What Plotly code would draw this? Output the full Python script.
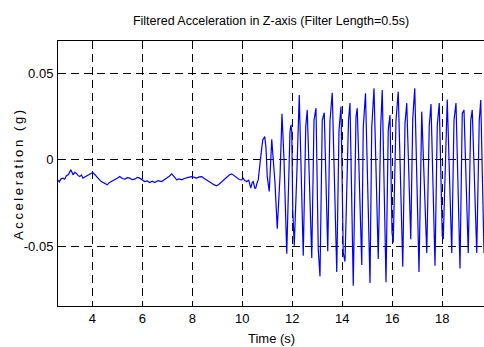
import plotly.graph_objects as go

# Time (s)
t = [2.63, 2.68, 2.75, 2.83, 2.9, 2.96, 3.05, 3.14, 3.2, 3.23, 3.3, 3.36, 3.43, 3.5, 3.57, 3.63,
     3.72, 3.83, 3.92, 4.02, 4.1, 4.16, 4.26, 4.36, 4.48, 4.6, 4.68, 4.76, 4.86, 4.96, 5.03, 5.1,
     5.2, 5.3, 5.4, 5.5, 5.6, 5.7, 5.8, 5.9, 6.0, 6.1, 6.2, 6.3, 6.4, 6.5, 6.63, 6.78, 6.88, 6.98,
     7.08, 7.18, 7.28, 7.38, 7.48, 7.58, 7.68, 7.78, 7.88, 7.98, 8.08, 8.18, 8.28, 8.38, 8.48, 8.58,
     8.68, 8.78, 8.88, 8.98, 9.08, 9.18, 9.28, 9.38, 9.48, 9.58, 9.68, 9.78, 9.88, 9.98, 10.04, 10.1,
     10.18, 10.26, 10.34, 10.4, 10.44, 10.5, 10.54, 10.6, 10.64, 10.74, 10.82, 10.9, 10.95, 11.0,
     11.08, 11.18, 11.24, 11.31, 11.4, 11.51, 11.59, 11.67, 11.78, 11.86, 11.91, 11.95, 11.98, 12.02,
     12.08, 12.18, 12.28, 12.44, 12.54, 12.6, 12.78, 12.87, 12.95, 13.04, 13.11, 13.2, 13.28, 13.42,
     13.51, 13.6, 13.78, 13.87, 13.95, 14.04, 14.11, 14.25, 14.31, 14.44, 14.55, 14.6, 14.78, 14.84,
     14.93, 15.11, 15.18, 15.27, 15.44, 15.54, 15.6, 15.75, 15.84, 15.91, 15.99, 16.04, 16.15, 16.24,
     16.42, 16.51, 16.58, 16.74, 16.82, 16.9, 17.07, 17.18, 17.38, 17.48, 17.55, 17.71, 17.8, 17.88,
     18.0, 18.04, 18.2, 18.38, 18.47, 18.55, 18.71, 18.8, 18.87, 19.04, 19.14, 19.2, 19.38, 19.48,
     19.54, 19.67]

# Filtered acceleration (g)
accel = [-0.0116, -0.0128, -0.011, -0.0106, -0.0112, -0.0093, -0.0085, -0.0058, -0.0075, -0.0087,
         -0.0072, -0.0077, -0.009, -0.0097, -0.0088, -0.0106, -0.0098, -0.0087, -0.0082, -0.0073,
         -0.0085, -0.0097, -0.011, -0.0126, -0.0135, -0.0145, -0.0132, -0.0126, -0.012, -0.0112,
         -0.0104, -0.0097, -0.0108, -0.0112, -0.0103, -0.0106, -0.0115, -0.0112, -0.0102, -0.0106,
         -0.0118, -0.0126, -0.0122, -0.0131, -0.0124, -0.0131, -0.012, -0.0126, -0.0115, -0.0106,
         -0.0095, -0.0081, -0.0098, -0.0116, -0.011, -0.0116, -0.0108, -0.0106, -0.01, -0.0097,
         -0.0103, -0.0106, -0.0099, -0.0097, -0.0108, -0.0116, -0.0124, -0.0135, -0.0145, -0.0151,
         -0.014, -0.0126, -0.011, -0.0097, -0.0088, -0.0081, -0.0092, -0.0106, -0.0114, -0.0116,
         -0.0106, -0.012, -0.0126, -0.0118, -0.0164, -0.013, -0.0126, -0.0164, -0.0164, -0.013,
         -0.0116, 0.0019, 0.0116, 0.0135, 0.0068, -0.0097, -0.0183, 0.012, 0.0019, -0.0135, -0.040,
         -0.0097, 0.0267, 0.0, -0.0545, -0.0097, 0.0164, 0.0203, 0.0164, -0.029, -0.0498, -0.0097,
         0.0377, -0.0556, 0.0193, 0.029, -0.057, 0.023, 0.030, -0.052, -0.0676, 0.023, 0.0274, -0.053,
         0.023, 0.039, -0.065, 0.0174, 0.031, -0.054, -0.059, 0.023, 0.033, -0.073, 0.025, 0.030,
         -0.061, 0.019, 0.0386, -0.0715, 0.019, 0.0415, -0.0575, 0.020, 0.0405, -0.071, 0.0174, 0.026,
         -0.042, -0.048, 0.023, 0.0396, -0.062, 0.0212, 0.033, -0.046, 0.024, 0.0415, -0.065, 0.028,
         -0.054, 0.020, 0.0324, -0.0614, 0.020, 0.033, -0.044, -0.046, 0.035, -0.054, 0.023, 0.033,
         -0.063, 0.027, 0.029, -0.054, 0.023, 0.029, -0.054, 0.023, 0.0348, -0.054]

x_ticks = [4, 6, 8, 10, 12, 14, 16, 18]
y_ticks = [-0.05, 0, 0.05]
y_tick_labels = ["-0.05", "0", "0.05"]

FONT = "Liberation Sans, Arial, sans-serif"
FS = 13

fig = go.Figure()
fig.add_trace(go.Scatter(x=t, y=accel, mode="lines",
                         line=dict(color="#0000ff", width=1.2), showlegend=False))

fig.update_layout(
    width=484, height=347,
    margin=dict(l=58, r=0, t=41, b=41),
    paper_bgcolor="white", plot_bgcolor="white",
    font=dict(family=FONT, size=FS, color="black"),
    title=dict(text="Filtered Acceleration in Z-axis (Filter Length=0.5s)",
               x=(58 + 484) / 2 / 484, xanchor="center",
               y=1 - 21 / 347, yanchor="middle", yref="container",
               font=dict(family=FONT, size=12.5, color="black")),
)

fig.update_xaxes(range=[2.63, 19.67], tickvals=x_ticks, ticks="inside", ticklen=5,
                 tickcolor="black", showline=True, linecolor="black", linewidth=1,
                 mirror="allticks", showgrid=True, gridcolor="black", gridwidth=1,
                 griddash="8px,5px", zeroline=False,
                 tickfont=dict(family=FONT, size=FS, color="black"))
fig.update_yaxes(range=[-0.0848, 0.069], tickvals=y_ticks, ticktext=y_tick_labels,
                 ticks="inside", ticklen=5, tickcolor="black", showline=True,
                 linecolor="black", linewidth=1, mirror=False, showgrid=True,
                 gridcolor="black", gridwidth=1, griddash="8px,5px", zeroline=False,
                 ticklabelstandoff=1,
                 tickfont=dict(family=FONT, size=FS, color="black"))

fig.add_annotation(text="Time (s)", xref="paper", yref="paper",
                   x=0.5, y=-(338 - 306) / 265, xanchor="center", yanchor="middle",
                   showarrow=False, font=dict(family=FONT, size=FS, color="black"))
ylab = "\u2009".join("Acceleration (g)")
fig.add_annotation(text=ylab, xref="paper", yref="paper", textangle=-90,
                   x=-(58 - 18) / 426, y=(306 - 175) / 265, xanchor="center", yanchor="middle",
                   showarrow=False, font=dict(family=FONT, size=FS, color="black"))

fig.write_html("out.html")
